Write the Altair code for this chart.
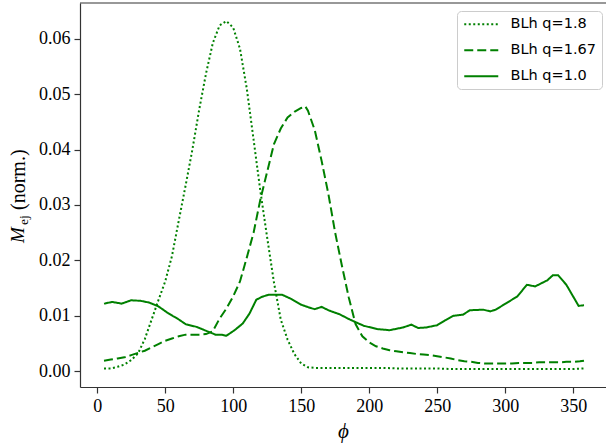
import altair as alt
import pandas as pd

# Ejected mass (normalised) against azimuthal angle phi, three BLh runs
phi_q18 = [5, 10, 15, 20, 25, 30, 35, 40, 45, 50, 55, 60, 65, 70, 75, 80, 85, 90, 95,
           100, 105, 110, 115, 120, 125, 130, 135, 140, 145, 150, 155, 160, 170, 180,
           190, 200, 210, 220, 230, 240, 250, 260, 270, 280, 290, 300, 310, 320, 330,
           340, 350, 358]
mej_q18 = [0.0005, 0.0005, 0.0008, 0.0012, 0.0020, 0.0032, 0.0058, 0.0093, 0.0128,
           0.0162, 0.0208, 0.0272, 0.0335, 0.0400, 0.0472, 0.0537, 0.0592, 0.0624,
           0.0632, 0.0620, 0.0582, 0.0510, 0.0418, 0.0325, 0.0241, 0.0160, 0.0093,
           0.0057, 0.0031, 0.0014, 0.0007, 0.0006, 0.0006, 0.0006, 0.0006, 0.0006,
           0.0006, 0.0005, 0.0005, 0.0005, 0.0005, 0.0004, 0.0004, 0.0004, 0.0004,
           0.0004, 0.0004, 0.0004, 0.0004, 0.0004, 0.0004, 0.0005]

phi_q167 = [5, 10, 15, 20, 25, 30, 35, 40, 45, 50, 55, 60, 65, 70, 75, 80, 85, 90, 95,
            100, 105, 110, 115, 120, 125, 130, 135, 140, 145, 150, 153, 155, 160, 165,
            170, 175, 180, 185, 190, 195, 200, 205, 210, 215, 220, 225, 230, 235, 240,
            245, 250, 255, 260, 265, 270, 275, 280, 285, 290, 295, 300, 305, 310, 315,
            320, 325, 330, 335, 340, 345, 350, 355, 358]
mej_q167 = [0.0019, 0.0021, 0.0023, 0.0025, 0.0029, 0.0033, 0.0037, 0.0043, 0.0049,
            0.0055, 0.0059, 0.0063, 0.0066, 0.0066, 0.0066, 0.0067, 0.0072, 0.0095,
            0.0113, 0.0135, 0.0162, 0.0205, 0.0250, 0.0310, 0.0360, 0.0410, 0.0438,
            0.0458, 0.0468, 0.0475, 0.0478, 0.0470, 0.0435, 0.0380, 0.0320, 0.0250,
            0.0190, 0.0133, 0.0085, 0.0063, 0.0052, 0.0045, 0.0041, 0.0038, 0.0036,
            0.0034, 0.0033, 0.0031, 0.0030, 0.0029, 0.0027, 0.0025, 0.0023, 0.0020,
            0.0018, 0.0017, 0.0015, 0.0014, 0.0014, 0.0014, 0.0014, 0.0014, 0.0015,
            0.0015, 0.0015, 0.0016, 0.0016, 0.0016, 0.0016, 0.0017, 0.0017, 0.0018,
            0.0019]

phi_q10 = [5, 11, 18, 25, 32, 38, 45, 52, 56, 59, 65, 73, 81, 87, 91, 95, 101, 107,
           112, 117, 121, 126, 136, 143, 150, 157, 160, 165, 171, 178, 186, 196, 206,
           215, 225, 231, 236, 242, 250, 256, 262, 269, 274, 284, 289, 293, 301, 309,
           316, 322, 331, 335, 339, 345, 354, 358]
mej_q10 = [0.0122, 0.0125, 0.0122, 0.0128, 0.0127, 0.0124, 0.0117, 0.0105, 0.0099,
           0.0095, 0.0085, 0.0080, 0.0072, 0.0066, 0.0066, 0.0064, 0.0074, 0.0086,
           0.0104, 0.0129, 0.0134, 0.0138, 0.0138, 0.0130, 0.0120, 0.0114, 0.0112,
           0.0116, 0.0109, 0.0103, 0.0093, 0.0082, 0.0076, 0.0074, 0.0079, 0.0084,
           0.0078, 0.0079, 0.0083, 0.0092, 0.0100, 0.0102, 0.0110, 0.0111, 0.0108,
           0.0111, 0.0123, 0.0135, 0.0156, 0.0153, 0.0164, 0.0173, 0.0173, 0.0156,
           0.0118, 0.0119]

run_labels = ["BLh q=1.8", "BLh q=1.67", "BLh q=1.0"]
run_dashes = [[2, 2.5], [9, 4], [1, 0]]

x_ticks = [0, 50, 100, 150, 200, 250, 300, 350]
y_ticks = [0.0, 0.01, 0.02, 0.03, 0.04, 0.05, 0.06]

frames = []
for label, xs, ys in zip(run_labels, [phi_q18, phi_q167, phi_q10],
                         [mej_q18, mej_q167, mej_q10]):
    frames.append(pd.DataFrame({"phi": xs, "mej": ys, "run": label}))
df = pd.concat(frames, ignore_index=True)

W, H = 526, 384
SERIF = "Liberation Serif"
AXIS_COLOR = "#333333"

x_scale = alt.Scale(domain=[-12.65, 374.17], nice=False, zero=False)
y_scale = alt.Scale(domain=[-0.00285, 0.06645], nice=False, zero=False)

lines = alt.Chart(df).mark_line(color="green", strokeWidth=2, strokeCap="butt").encode(
    x=alt.X("phi:Q", scale=x_scale,
            axis=alt.Axis(values=x_ticks, title="ϕ", titleFont=SERIF,
                          titleFontStyle="italic", titleFontWeight="normal",
                          titleFontSize=21, titlePadding=5, titleColor="black")),
    y=alt.Y("mej:Q", scale=y_scale,
            axis=alt.Axis(values=y_ticks, format=".2f", title=None)),
    strokeDash=alt.StrokeDash(
        "run:N",
        scale=alt.Scale(domain=run_labels, range=run_dashes),
        # legend sample is a 34px stroke drawn from the symbol slot to the right
        legend=alt.Legend(
            title=None, orient="none", legendX=377, legendY=8,
            symbolType="M-1,0H4.67", symbolSize=144, symbolStrokeWidth=2,
            symbolStrokeColor="green", symbolFillColor="transparent",
            labelFont="DejaVu Sans", labelFontSize=14.5, labelColor="black",
            labelOffset=33, rowPadding=11, padding=6,
            fillColor="white", strokeColor="#cccccc", cornerRadius=4,
        ),
    ),
)

# top spine of the frame
one = pd.DataFrame({"k": [0]})
top_spine = alt.Chart(one).mark_rule(color=AXIS_COLOR, strokeWidth=1.2).encode(
    x=alt.value(0), x2=alt.value(W), y=alt.value(0)
)

# y-axis title: italic M with subscript "ej", then "(norm.)"
title_m = alt.Chart(one).mark_text(
    text="M", font=SERIF, fontStyle="italic", fontSize=19, angle=270,
    align="left", baseline="alphabetic", color="black"
).encode(x=alt.value(-56), y=alt.value(240))
title_sub = alt.Chart(one).mark_text(
    text="ej", font=SERIF, fontSize=13.5, angle=270,
    align="left", baseline="alphabetic", color="black"
).encode(x=alt.value(-52.5), y=alt.value(222))
title_rest = alt.Chart(one).mark_text(
    text="(norm.)", font=SERIF, fontSize=20, angle=270,
    align="left", baseline="alphabetic", color="black"
).encode(x=alt.value(-55), y=alt.value(207))

chart = alt.layer(lines, top_spine, title_m, title_sub, title_rest).properties(
    width=W, height=H,
    background="white",
    autosize=alt.AutoSizeParams(type="none"),
    padding={"left": 80, "top": 3, "right": 0, "bottom": 60},
).configure_view(
    strokeWidth=0
).configure_axis(
    grid=False, domainColor=AXIS_COLOR, domainWidth=1.2,
    tickColor=AXIS_COLOR, tickWidth=1.2, tickSize=6,
    labelFont=SERIF, labelFontSize=18, labelColor="black", labelPadding=4,
)

chart.save("out.html", embed_options={"renderer": "svg", "actions": False})
